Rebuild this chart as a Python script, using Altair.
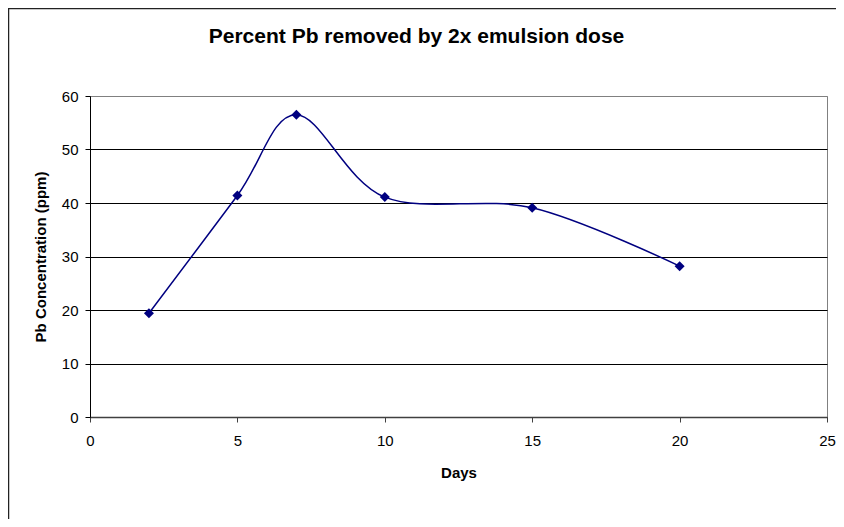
import altair as alt
import pandas as pd

days = [2, 5, 7, 10, 15, 20]
pb_ppm = [19.4, 41.4, 56.5, 41.1, 39.1, 28.2]

df = pd.DataFrame({"Days": days, "Pb": pb_ppm})

FONT = "Liberation Sans"
W, H = 737, 321
PAD_L, PAD_T = 82, 88

x_enc = alt.X("Days:Q", scale=alt.Scale(domain=[0, 25], nice=False),
              axis=alt.Axis(values=[0, 5, 10, 15, 20, 25], title="Days", grid=False,
                            domainColor="#404040", domainWidth=1.5, tickColor="#404040",
                            tickSize=5, labelPadding=11, titlePadding=17, labelFlush=False))
y_enc = alt.Y("Pb:Q", scale=alt.Scale(domain=[0, 60], nice=False),
              axis=alt.Axis(values=[0, 10, 20, 30, 40, 50, 60], title="Pb Concentration (ppm)",
                            grid=True, labelFlush=False,
                            gridColor={"condition": {"test": "datum.value === 60", "value": "#808080"},
                                       "value": "#000000"},
                            domainColor="#000000", tickColor="#000000", tickSize=5,
                            labelPadding=7, titlePadding=13))

border = alt.Chart(pd.DataFrame({"a": [0]})).mark_rect(
    fill=None, stroke="#222222", strokeWidth=1.5, clip=False
).encode(x=alt.value(-PAD_L + 0.5), x2=alt.value(W + 60),
         y=alt.value(-PAD_T + 0.5), y2=alt.value(H + 200))

line = alt.Chart(df).mark_line(interpolate="cardinal", tension=0, color="#000080",
                               strokeWidth=1.5).encode(x=x_enc, y=y_enc)
pts = alt.Chart(df).mark_point(shape="diamond", filled=True, color="#000080", size=100,
                               opacity=1).encode(x="Days:Q", y="Pb:Q")

chart = alt.layer(border, line, pts).properties(
    width=W, height=H,
    title=alt.TitleParams("Percent Pb removed by 2x emulsion dose", font=FONT, fontSize=21,
                          fontWeight="bold", color="#000000", anchor="middle", dx=-42,
                          offset=-56, baseline="alphabetic"),
    autosize=alt.AutoSizeParams(type="none"),
    padding={"left": PAD_L, "top": PAD_T, "right": 9, "bottom": 102},
).configure(
    font=FONT, background="white"
).configure_view(
    stroke="#808080", strokeWidth=1
).configure_axis(
    labelFont=FONT, labelFontSize=15, labelColor="#000000",
    titleFont=FONT, titleFontSize=15, titleFontWeight="bold", titleColor="#000000",
    domainWidth=1, gridWidth=1
)

chart.save("out.html", embed_options={"renderer": "svg", "actions": False})
